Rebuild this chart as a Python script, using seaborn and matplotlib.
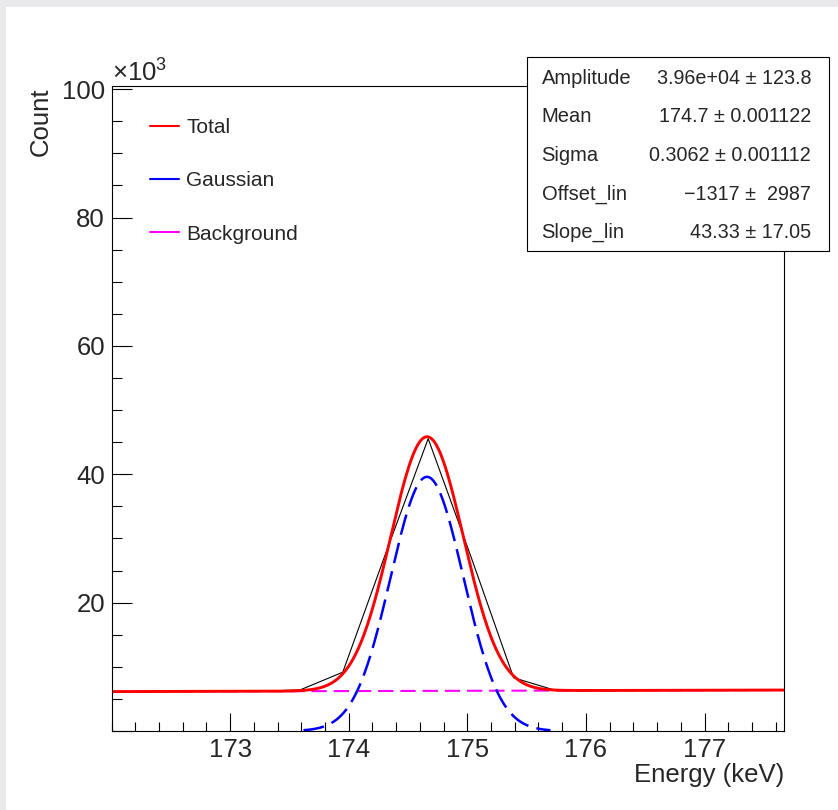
import numpy as np
import pandas as pd
import matplotlib
matplotlib.use('Agg')
import matplotlib.pyplot as plt
from matplotlib.lines import Line2D
from matplotlib.patches import Rectangle
from matplotlib.ticker import MultipleLocator, FixedLocator, FuncFormatter
import seaborn as sns

# Histogram bin centres (keV) and counts
energy = [171.79, 172.15, 172.51, 172.87, 173.23, 173.59, 173.95, 174.31, 174.67,
          175.03, 175.39, 175.75, 176.11, 176.47, 176.83, 177.19, 177.55, 177.91]
counts = [6100, 6130, 6150, 6170, 6190, 6400, 9160, 27600, 45550,
          27200, 8300, 6290, 6330, 6350, 6360, 6380, 6400, 6420]

# Fit results (stats box)
amplitude = 3.96e4
mean = 174.66
sigma = 0.3062
offset_lin = -1317
slope_lin = 43.33

stat_names = ["Amplitude", "Mean", "Sigma", "Offset_lin", "Slope_lin"]
stat_values = ["3.96e+04 \u00b1 123.8", "174.7 \u00b1 0.001122", "0.3062 \u00b1 0.001112",
               "\u22121317 \u00b1  2987", "43.33 \u00b1 17.05"]
legend_labels = ["Total", "Gaussian", "Background"]
x_ticks = [173, 174, 175, 176, 177]
x_range = (172.0, 177.67)
y_range = (0, 100500)

# Fit curves evaluated from the fit parameters
xs = np.linspace(x_range[0], x_range[1], 600)
fit = pd.DataFrame({"x": xs})
fit["gauss"] = amplitude * np.exp(-0.5 * ((fit["x"] - mean) / sigma) ** 2)
fit["bg"] = offset_lin + slope_lin * fit["x"]
fit["total"] = fit["gauss"] + fit["bg"]
# the gaussian is not drawn where it sits on the axis
gauss_vis = fit[fit["gauss"] > 120]

sns.set_theme(style="ticks")
plt.rcParams['font.family'] = ['Liberation Sans', 'DejaVu Sans']
plt.rcParams['lines.scale_dashes'] = False
plt.rcParams['axes.linewidth'] = 0.8

W, H = 838, 810
fig = plt.figure(figsize=(W / 100, H / 100), dpi=100)
fig.patch.set_facecolor('#e9e8eb')
fig.add_artist(Rectangle((6 / W, 0), 1, 1 - 7 / H, transform=fig.transFigure,
                         facecolor='white', edgecolor='none', zorder=-10))

ax = fig.add_axes([111.5 / W, 1 - 731 / H, (784 - 111.5) / W, (731 - 86) / H])
ax.set_facecolor('white')

sns.lineplot(x=energy, y=counts, ax=ax, color='black', lw=0.8, sort=False, estimator=None)
sns.lineplot(data=fit, x="x", y="bg", ax=ax, color='#ff00ff', lw=1.5,
             linestyle=(0, (11, 5)), estimator=None)
sns.lineplot(data=gauss_vis, x="x", y="gauss", ax=ax, color='#0000ff', lw=1.8,
             linestyle=(0, (15, 6)), estimator=None)
sns.lineplot(data=fit, x="x", y="total", ax=ax, color='#ff0000', lw=2.1, estimator=None)

ax.set_xlim(*x_range)
ax.set_ylim(*y_range)
ax.set_xlabel('')
ax.set_ylabel('')

ax.xaxis.set_major_locator(FixedLocator(x_ticks))
ax.xaxis.set_minor_locator(MultipleLocator(0.2))
ax.yaxis.set_major_locator(MultipleLocator(20000))
ax.yaxis.set_minor_locator(MultipleLocator(5000))
ax.yaxis.set_major_formatter(FuncFormatter(lambda v, p: '' if v == 0 else f'{v / 1000:.0f}'))
ax.tick_params(which='both', direction='in', top=False, right=False, color='black')
ax.tick_params(axis='y', which='major', length=14.4, width=0.8, pad=4.7, labelsize=18.5)
ax.tick_params(axis='y', which='minor', length=7.2, width=0.8)
ax.tick_params(axis='x', which='major', length=13, width=0.8, pad=5, labelsize=18.5)
ax.tick_params(axis='x', which='minor', length=6.5, width=0.8)
for s in ax.spines.values():
    s.set_color('black')
    s.set_linewidth(0.8)

# axis titles, ROOT style
fig.text(41 / W, 1 - 87 / H, 'Count', rotation=90, ha='center', va='top', fontsize=18.5)
fig.text(784 / W, 1 - 775 / H, 'Energy (keV)', ha='right', va='center', fontsize=18.5)
fig.text(111.5 / W, 1 - 82 / H, r'$\mathregular{\times10^{3}}$', ha='left', va='baseline',
         fontsize=18.5)

# legend
handles = [Line2D([], [], color=c, lw=1.5) for c in ['#ff0000', '#0000ff', '#ff00ff']]
ax.legend(handles, legend_labels, loc='upper left', bbox_to_anchor=(150 / W, 1 - 118 / H),
          bbox_transform=fig.transFigure, frameon=False, fontsize=15, handlelength=1.375,
          handletextpad=0.36, labelspacing=1.65, borderpad=0, borderaxespad=0)

# stats box
fig.add_artist(Rectangle((527 / W, 1 - 251 / H), 302 / W, 194 / H, transform=fig.transFigure,
                         facecolor='white', edgecolor='black', lw=0.8, zorder=5))
for i, (name, val) in enumerate(zip(stat_names, stat_values)):
    yy = 1 - (78.5 + 38.5 * i) / H
    fig.text(541.5 / W, yy, name, ha='left', va='center', fontsize=14.5, zorder=6)
    fig.text(811 / W, yy, val, ha='right', va='center', fontsize=14.2, zorder=6)

fig.savefig('out.png', dpi=100)
